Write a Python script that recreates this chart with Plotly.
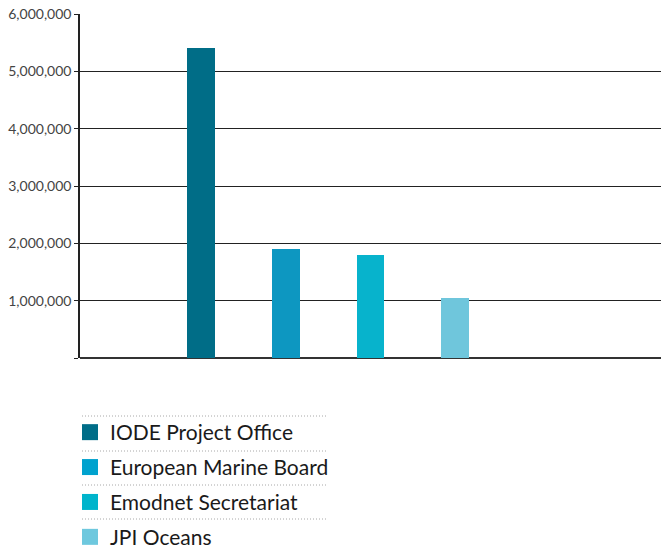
import plotly.graph_objects as go

categories = ["IODE Project Office", "European Marine Board", "Emodnet Secretariat", "JPI Oceans"]
values = [5410000, 1900000, 1800000, 1050000]
bar_colors = ["#006d87", "#0d97c1", "#07b3cc", "#6fc6dc"]
legend_colors = ["#006d88", "#00a2ce", "#00b4cc", "#6ec8de"]
tick_values = [0, 1000000, 2000000, 3000000, 4000000, 5000000, 6000000]
tick_labels = ["", "1,000,000", "2,000,000", "3,000,000", "4,000,000", "5,000,000", "6,000,000"]

FONT = "Lato"
W, H = 661, 551
L, R, T, B = 80, 0, 14, 193
plot_h = H - T - B
plot_w = W - L - R

fig = go.Figure()
for i, (cat, val) in enumerate(zip(categories, values)):
    fig.add_trace(go.Bar(
        x=[cat], y=[val], width=0.33,
        marker=dict(color=bar_colors[i], line=dict(width=0)),
        name=cat, legendgroup=cat, showlegend=False,
    ))
    fig.add_trace(go.Scatter(
        x=[None], y=[None], mode="markers",
        marker=dict(symbol="square", size=16, color=legend_colors[i]),
        name=cat, legendgroup=cat, showlegend=True,
    ))

def py(pix):
    return (H - B - pix) / plot_h

def px(pix):
    return (pix - L) / plot_w

shapes = []
for ypix in [416, 451, 485, 519]:
    shapes.append(dict(type="line", xref="paper", yref="paper",
                       x0=px(82), x1=px(326), y0=py(ypix), y1=py(ypix),
                       line=dict(color="#a8a8a8", width=1, dash="1px,2px")))

fig.update_layout(
    width=W, height=H,
    margin=dict(l=L, r=R, t=T, b=B, autoexpand=False),
    plot_bgcolor="white", paper_bgcolor="white",
    barmode="overlay",
    bargap=0,
    shapes=shapes,
    font=dict(family=FONT, color="#222"),
    showlegend=True,
    legend=dict(
        x=px(70), y=py(412), xanchor="left", yanchor="top",
        font=dict(family=FONT, size=21, color="#1a1a1a"),
        tracegroupgap=4.6, itemsizing="trace",
        bgcolor="rgba(0,0,0,0)",
    ),
    xaxis=dict(
        type="category", categoryorder="array", categoryarray=categories,
        range=[-1.43, 5.43], showticklabels=False, showgrid=False,
        zeroline=False, showline=False, ticks="", fixedrange=True,
    ),
    yaxis=dict(
        range=[0, 6000000], tickvals=tick_values, ticktext=tick_labels,
        showgrid=True, gridcolor="#222", gridwidth=1,
        zeroline=True, zerolinecolor="#333", zerolinewidth=1.5,
        showline=True, linecolor="#222", linewidth=1.5,
        ticks="outside", ticklen=4, tickcolor="#222", tickwidth=1,
        tickfont=dict(family=FONT, size=14, color="#444"),
        fixedrange=True,
    ),
)

fig.write_html(
    "out.html",
    config={"displayModeBar": False},
    post_script="document.body.style.margin='0';document.body.style.overflow='hidden';",
)
